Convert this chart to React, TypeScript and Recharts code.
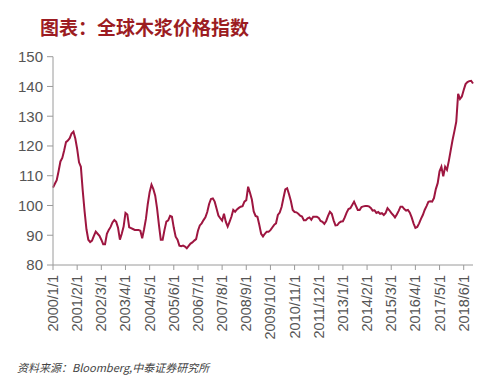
import React from "react";
import { LineChart, Line, XAxis, YAxis } from "recharts";

const START_YEAR = 2000;
const yTicks = [80, 90, 100, 110, 120, 130, 140, 150];
const pulpIndex = [
  106, 107.3, 108.5, 111.5, 114.8, 116, 118.5, 121.3, 121.8, 122.6,
  124.2, 124.8, 122.5, 119, 114.5, 113, 105, 98, 92, 88.5,
  87.7, 88.2, 89.8, 91.2, 90.5, 89.8, 88.5, 87, 87, 90.5,
  91.8, 92.8, 94.3, 95.1, 94.5, 92.5, 88.5, 90.5, 92.9, 97.5,
  97, 92.7, 92.4, 92.1, 91.8, 91.8, 91.8, 91.5, 89, 92,
  95.5, 100.5, 104.5, 107, 105.5, 103.3, 99, 93.5, 88.5, 88.5,
  91.8, 94.6, 95, 96.5, 96.2, 92.5, 89.5, 88.5, 86.5, 86.3,
  86.5, 86.2, 85.6, 86.4, 87.2, 87.6, 88.2, 88.7, 91.5, 93.3,
  94, 95.1, 96, 97.8, 100.5, 102.2, 102.4, 101.3, 99, 96.6,
  95.7, 94.9, 97.2, 94.5, 92.9, 94.5, 96.2, 98.5, 97.9, 98.7,
  99.2, 99.6, 99.8, 101.3, 101.8, 106.3, 104.3, 102, 98, 96.5,
  96.2, 93.5, 90.5, 89.6, 90.5, 91.2, 91.2, 91.7, 92.6, 93.5,
  94, 96.8, 97.6, 99.5, 102.5, 105.4, 105.8, 103.8, 101.5, 98.5,
  97.8, 97.7, 97.2, 96.6, 96.3, 95, 95, 95.7, 96, 95.2,
  96.2, 96.2, 96.2, 95.8, 94.8, 94.5, 93.8, 94.8, 96.5, 97.9,
  97.2, 95, 93.3, 93.4, 94.2, 94.6, 94.7, 96, 97.6, 98.8,
  99.1, 100.2, 101.3, 99.9, 98.5, 98.5, 99.5, 99.7, 99.8, 99.8,
  99.7, 99.2, 98.3, 98.4, 97.5, 97.8, 97.2, 97.4, 96.8, 97.5,
  99.1, 98.4, 97.5, 96.8, 96, 97, 98.2, 99.6, 99.6, 98.8,
  98.3, 98.5, 97.6, 96, 94, 92.5, 92.8, 94, 95.5, 96.8,
  98.5, 99.8, 101.2, 101.4, 101.3, 102.5, 105.5, 107.5, 111.5, 113,
  109.8, 113, 112, 115, 118.5, 122, 125, 128.2, 137.5, 135.8,
  136.6, 138.8, 140.8, 141.5, 141.8, 141.9, 141,
];
const dates = pulpIndex.map((_, i) => {
  const y = START_YEAR + Math.floor(i / 12);
  const m = (i % 12) + 1;
  return `${y}/${m}/1`;
});
const data = pulpIndex.map((v, i) => ({ date: dates[i], value: v }));

const FONT = "'Liberation Sans', Arial, sans-serif";
const AXIS = "#9a9a9a";

const XTick = (props: any) => {
  const { x, y, payload } = props;
  return (
    <text
      x={x}
      y={y}
      transform={`rotate(-90, ${x}, ${y})`}
      textAnchor="end"
      dominantBaseline="central"
      fill="#555"
      fontSize={14.5}
      fontFamily={FONT}
    >
      {payload.value}
    </text>
  );
};

export default function App() {
  return (
    <div style={{ position: "absolute", left: 0, top: 0, width: 499, height: 386, background: "#fff" }}>
      <div
        style={{
          position: "absolute",
          left: 40,
          top: 17,
          fontSize: 19,
          lineHeight: "20px",
          fontWeight: 700,
          color: "#9c1c22",
          fontFamily: "'Noto Sans CJK SC', sans-serif",
          whiteSpace: "nowrap",
        }}
      >
        图表：全球木浆价格指数
      </div>
      <LineChart
        width={499}
        height={386}
        data={data}
        margin={{ top: 56.7, right: 26, left: 0, bottom: 41 }}
      >
        <XAxis
          dataKey="date"
          scale="point"
          padding={{ left: 0, right: 0 }}
          interval={12}
          height={80}
          tickSize={5}
          tickMargin={5}
          stroke={AXIS}
          tick={<XTick />}
        />
        <YAxis
          domain={[80, 150]}
          ticks={yTicks}
          width={53}
          tickSize={6}
          tickMargin={4}
          stroke={AXIS}
          tick={{ fill: "#555", fontSize: 15, fontFamily: FONT }}
        />
        <Line
          type="linear"
          dataKey="value"
          stroke="#9e1640"
          strokeWidth={2}
          dot={false}
          isAnimationActive={false}
        />
      </LineChart>
      <div
        style={{
          position: "absolute",
          left: 17,
          top: 361,
          fontSize: 11,
          lineHeight: "13px",
          fontStyle: "italic",
          color: "#444",
          fontFamily: "'Noto Sans CJK SC', sans-serif",
          whiteSpace: "nowrap",
        }}
      >
        资料来源：Bloomberg,中泰证券研究所
      </div>
    </div>
  );
}
